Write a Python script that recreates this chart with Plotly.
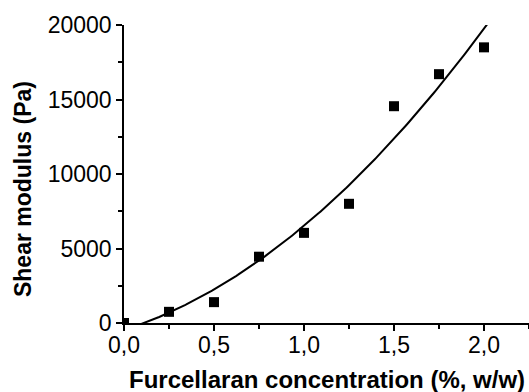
import numpy as np
import plotly.graph_objects as go

concentration = [0.0, 0.25, 0.5, 0.75, 1.0, 1.25, 1.5, 1.75, 2.0]
shear_modulus = [0, 750, 1400, 4450, 6050, 8000, 14550, 16700, 18500]

x_tickvals = [0.0, 0.5, 1.0, 1.5, 2.0]
x_ticktext = ["0,0", "0,5", "1,0", "1,5", "2,0"]
y_tickvals = [0, 5000, 10000, 15000, 20000]
y_ticktext = ["0", "5000", "10000", "15000", "20000"]

x_title = "<b>Furcellaran concentration (%, w/w)</b>"
y_title = "<b>Shear modulus (Pa)</b>"

# quadratic fit of the data
coef = np.polyfit(concentration, shear_modulus, 2)
xf = np.linspace(0.0, 2.25, 300)
yf = np.polyval(coef, xf)
mask = (yf >= -200) & (yf <= 20300)

fig = go.Figure()
fig.add_trace(go.Scatter(x=xf[mask], y=yf[mask], mode="lines",
                         line=dict(color="black", width=2), showlegend=False))
fig.add_trace(go.Scatter(x=concentration, y=shear_modulus, mode="markers",
                         marker=dict(symbol="square", size=10, color="black"),
                         showlegend=False, cliponaxis=True))

font_family = "Liberation Sans, Arial, sans-serif"
fig.update_layout(
    width=529, height=392,
    margin=dict(l=124, r=0, t=25, b=69, autoexpand=False),
    paper_bgcolor="white", plot_bgcolor="white",
    font=dict(family=font_family, color="black", size=23),
    xaxis=dict(range=[0, 2.25], tickvals=x_tickvals, ticktext=x_ticktext,
               showline=True, linecolor="black", linewidth=1.5,
               ticks="outside", ticklen=6, tickwidth=1.5, tickcolor="black",
               minor=dict(tickvals=[0.25, 0.75, 1.25, 1.75, 2.25], ticks="outside",
                          ticklen=4, tickwidth=1.5, tickcolor="black"),
               showgrid=False, zeroline=False, automargin=False,
               ticklabelstandoff=-5,
               tickfont=dict(size=23)),
    yaxis=dict(range=[0, 20000], tickvals=y_tickvals, ticktext=y_ticktext,
               showline=True, linecolor="black", linewidth=1.5,
               ticks="outside", ticklen=6, tickwidth=1.5, tickcolor="black",
               minor=dict(tickvals=[2500, 7500, 12500, 17500], ticks="outside",
                          ticklen=4, tickwidth=1.5, tickcolor="black"),
               showgrid=False, zeroline=False, automargin=False,
               tickfont=dict(size=23)),
    annotations=[
        dict(text=x_title, xref="paper", yref="paper", x=0.501, y=-0.191,
             xanchor="center", yanchor="middle", showarrow=False,
             font=dict(size=24)),
        dict(text=y_title, xref="paper", yref="paper", x=-0.249, y=0.45,
             xanchor="center", yanchor="middle", showarrow=False, textangle=-90,
             font=dict(size=23)),
    ],
)

fig.write_html("out.html")
